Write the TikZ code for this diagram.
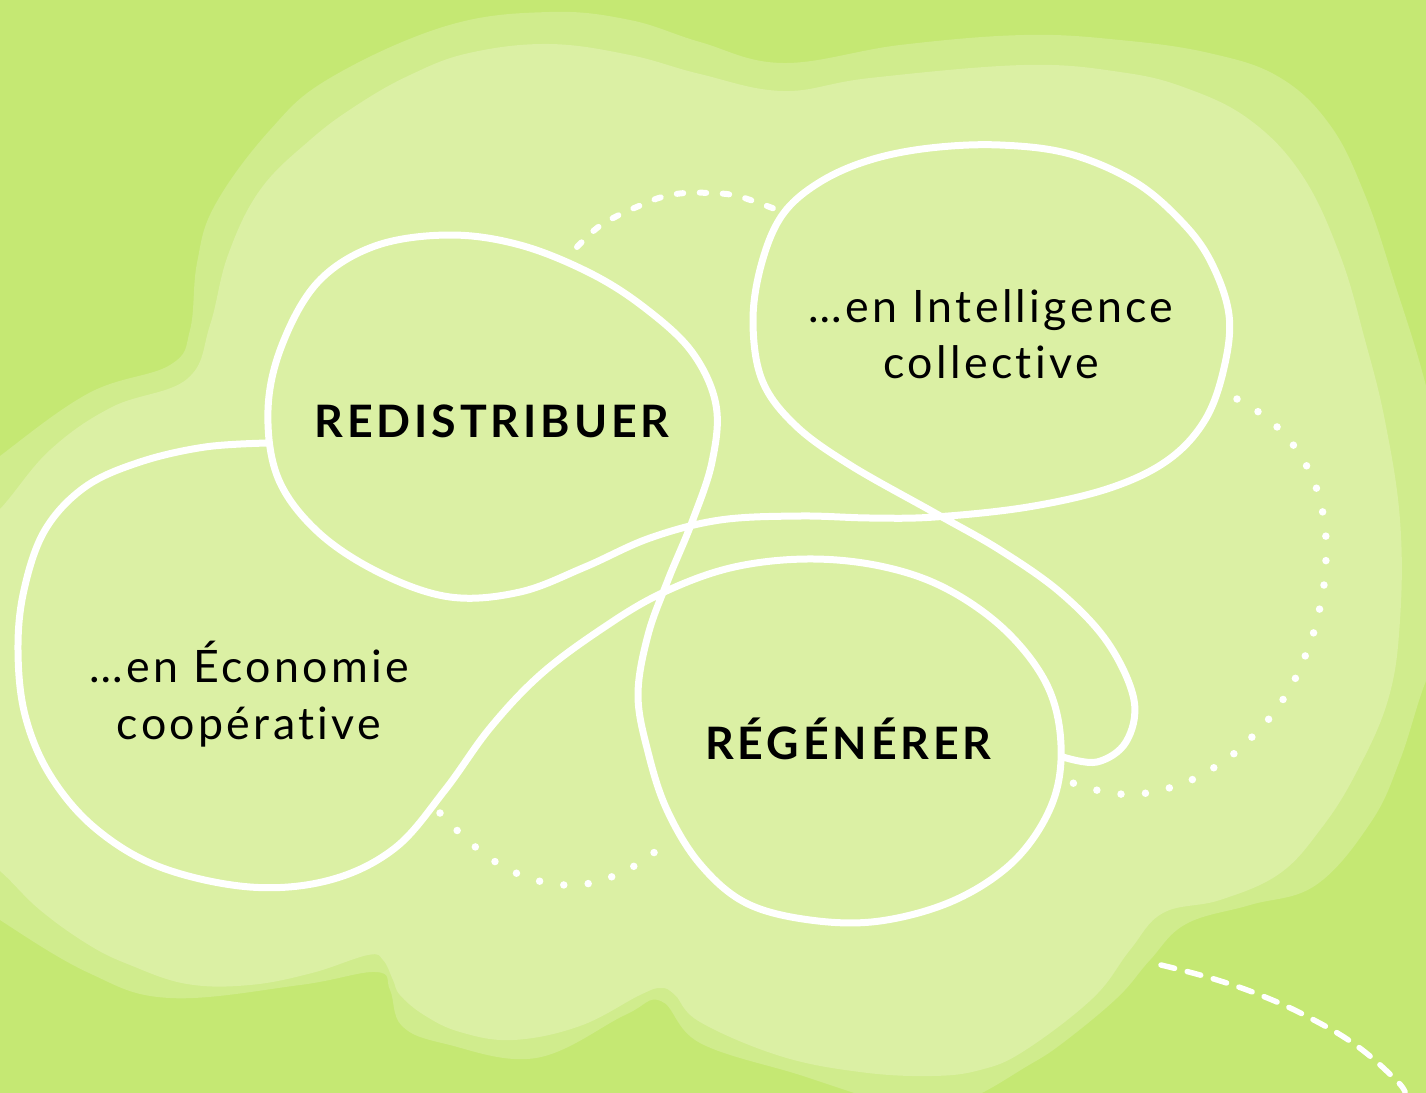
\documentclass[tikz,border=0pt]{standalone}
\usepackage{fontspec}
\setmainfont{Lato}
\newfontfamily\labfont[LetterSpace=7.5,Ligatures=NoCommon]{Lato}
\newfontfamily\boldfont[LetterSpace=8.7,Ligatures=NoCommon]{Lato Bold}
\definecolor{bgdark}{HTML}{C5E873}
\definecolor{bgmid}{HTML}{D0EC8D}
\definecolor{bglight}{HTML}{DBF0A4}
\begin{document}
\begin{tikzpicture}[x=1pt,y=-1pt,
  wline/.style={draw=white, line width=7pt, line cap=round, line join=round},
  dotline/.style={draw=white, line width=7.5pt, line cap=round, dash pattern=on 0pt off 24.5pt},
  shortdash/.style={draw=white, line width=6pt, line cap=round, dash pattern=on 6.5pt off 16.5pt},
  longdash/.style={draw=white, line width=5.5pt, line cap=round, dash pattern=on 14pt off 13pt},
  reg/.style={font=\labfont\fontsize{44.7}{56}\selectfont, text=black, inner sep=0pt, anchor=base},
  bld/.style={font=\boldfont\fontsize{44.7}{56}\selectfont, text=black, inner sep=0pt, anchor=base}]
\useasboundingbox (0,0) rectangle (1426,1092);
\fill[bgdark] (-5,-5) rectangle (1431,1097);
\begin{scope}
\clip (-5,-5) rectangle (1431,1097);
% outer (middle tone) blob
\fill[bgmid] plot[smooth cycle, tension=0.65] coordinates {
 (-40,490) (0,456) (89,393) (170,365) (190,330) (197,263) (215,205)
 (270,130) (330,78) (446,26) (549,12) (630,20) (700,42) (783,63) (900,45)
 (1024,35) (1120,40) (1209,53) (1279,77) (1330,125) (1365,195) (1394,281)
 (1426,386) (1450,500) (1450,640) (1426,681) (1400,760) (1371,822) (1316,885) (1250,905)
 (1186,924) (1150,960) (1117,998) (1060,1045) (1024,1068) (978,1095) (930,1115) (870,1098)
 (800,1075) (700,1043) (661,1001) (625,1015) (536,1058) (446,1044) (402,1026) (390,990)
 (376,972) (300,985) (170,998) (89,973) (0,920) (-40,890)};
% inner (light) blob
\fill[bglight] plot[smooth cycle, tension=0.65] coordinates {
 (-40,545) (0,509) (50,450) (112,407) (187,379) (210,325) (228,255) (260,190)
 (310,140) (357,105) (410,75) (469,53) (549,44) (630,55) (700,74) (783,91) (870,78)
 (1024,65) (1120,72) (1186,88) (1250,120) (1302,175) (1340,255) (1365,340)
 (1385,421) (1400,520) (1400,620) (1388,700) (1355,775) (1320,830)
 (1279,874) (1220,900) (1163,913) (1130,950) (1093,998) (1024,1051) (980,1070) (931,1076)
 (860,1072) (780,1056) (700,1022) (675,995) (661,988) (640,995) (580,1026) (513,1040)
 (460,1032) (424,1015) (400,995) (393,980) (383,960) (368,955) (312,973) (250,985)
 (187,984) (130,965) (89,945) (40,910) (0,871) (-40,840)};
\end{scope}
% dotted and dashed arcs
\draw[shortdash] plot[smooth, tension=0.7] coordinates {(577,247) (597,228) (617,216) (639,206) (662,197) (685,193) (709,193) (733,195) (756,202) (780,211)};
\draw[dotline] plot[smooth, tension=0.7] coordinates {(1237,399) (1274,424) (1305,463) (1322,509) (1326,558) (1320,607) (1306,654) (1284,698) (1253,736) (1215,767) (1169,788) (1119,794) (1070,782)};
\draw[dotline] plot[smooth, tension=0.7] coordinates {(440,813) (478,849) (521,875) (573,885) (623,872) (665,844)};
\draw[longdash] plot[smooth, tension=0.7] coordinates {(1161,965) (1214,979) (1265,997) (1312,1019) (1357,1046) (1395,1079) (1405,1092)};
% main white line
\draw[wline] plot[smooth, tension=0.6] coordinates {
 (268,443) (205,447) (140,462) (85,487) (45,530) (24,590) (18,650) (25,715) (50,775)
 (95,828) (160,867) (250,887) (330,880) (395,848) (445,790) (490,728) (540,675)
 (600,630) (660,594) (730,568) (806,559) (880,566) (945,588) (1005,630) (1047,685)
 (1061,745) (1052,804) (1015,860) (955,900) (880,921) (810,920) (746,903) (700,864)
 (667,810) (648,752) (638,695) (648,635) (668,580) (692,522) (712,462) (716,405)
 (692,352) (645,308) (590,273) (520,245) (449,235) (375,246) (318,282) (282,345)
 (268,410) (278,478) (318,532) (380,573) (450,597) (520,592) (585,567) (650,538)
 (720,520) (800,516) (870,518) (935,517) (1028,507) (1110,488) (1168,460) (1205,420)
 (1224,368) (1229,315) (1211,262) (1182,222) (1135,182) (1070,154) (1000,145) (930,148)
 (870,160) (820,182) (783,214) (762,262) (753,320) (762,380) (795,425) (850,465)
 (935,513) (1000,550) (1061,593) (1108,643) (1134,700) (1126,742) (1097,762) (1063,757)};
% labels
\node[reg] (i1) at (991,322) {…en Intelligence};
\node[reg] (i2) at (991,378) {collective};
\node[reg] (e1) at (249.5,682) {…en Économie};
\node[reg] (e2) at (249,739) {coopérative};
\node[bld] (red) at (492,437) {REDISTRIBUER};
\node[bld] (reg) at (848.5,759) {RÉGÉNÉRER};
\end{tikzpicture}
\end{document}
